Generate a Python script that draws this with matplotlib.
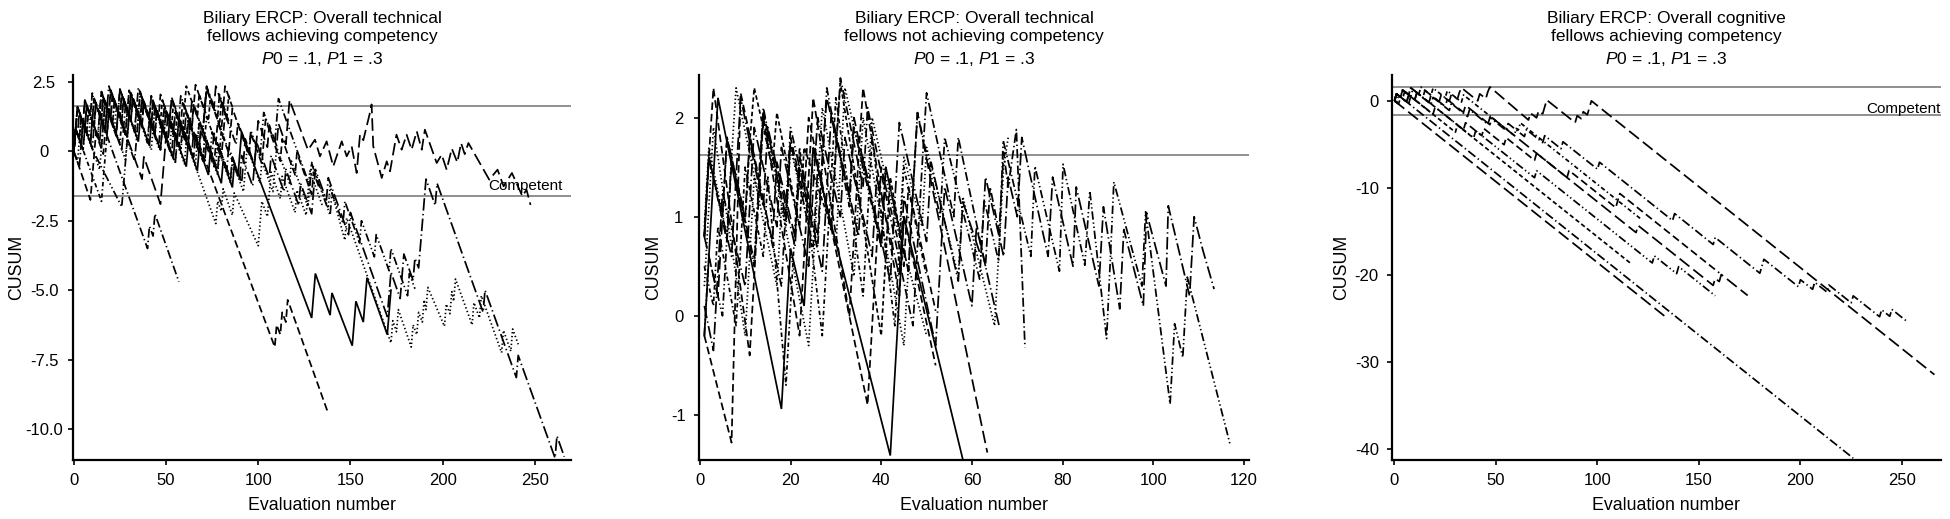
import matplotlib
matplotlib.use("Agg")
import matplotlib.pyplot as plt

plt.rcParams['font.family'] = ['Liberation Sans', 'DejaVu Sans']
plt.rcParams['mathtext.fontset'] = 'custom'
plt.rcParams['mathtext.rm'] = 'Liberation Sans'
plt.rcParams['mathtext.it'] = 'Liberation Sans:italic'
plt.rcParams['lines.scale_dashes'] = False

# ---------------- data: panel 1 (technical, achieving competency) ----------------
p1_solid = [(0,0),(1,0.8),(4,0.25),(5,1.05),(9,0.3),(10,1.1),(14,0.35),(15,1.15),(18,0.6),(19,1.4),(23,0.65),(24,1.45),(29,0.5),(30,1.3),(35,0.35),(36,1.15),(41,0.2),(42,1.0),(47,0.05),(48,0.85),(54,-0.25),(55,0.55),(61,-0.55),(62,0.25),(67,-0.7),(68,0.1),(73,-0.85),(74,-0.05),(80,-1.15),(81,-0.35),(86,-1.3),(87,-0.5),(89,-0.9),(90,-0.1),(91,0.7),(129,-6.0),(130,-5.2),(131,-4.4),(139,-5.9),(140,-5.1),(151,-7.0),(152,-6.2),(153,-5.4),(157,-6.15),(158,-5.35),(159,-4.55),(170,-6.6),(171,-5.8),(172,-5.0)]
p1_dash = [(0,0),(1,0.8),(3,0.45),(4,1.25),(7,0.7),(8,1.5),(11,0.95),(12,1.75),(16,1.0),(17,1.8),(20,1.25),(21,2.05),(26,1.1),(27,1.9),(31,1.15),(32,1.95),(37,1.0),(38,1.8),(44,0.7),(45,1.5),(51,0.4),(52,1.2),(58,0.1),(59,0.9),(65,-0.2),(66,0.6),(109,-7.05),(110,-6.25),(112,-6.6),(113,-5.8),(115,-6.15),(116,-5.35),(137.5,-9.35)]
p1_dashdot = [(0,0),(1,0.8),(5,0.05),(6,0.85),(10,0.1),(11,0.9),(15,0.15),(16,0.95),(21,0.0),(40,-3.5),(41,-2.7),(43,-3.05),(44,-2.25),(57,-4.7)]
p1_longdash = [(0,0),(1,0.8),(2,0.6),(3,1.4),(6,0.85),(7,1.65),(10,1.1),(11,1.9),(15,1.15),(16,1.95),(20,1.2),(21,2.0),(25,1.25),(26,2.05),(31,1.1),(32,1.9),(37,0.95),(38,1.75),(43,0.8),(44,1.6),(50,0.5),(51,1.3),(57,0.2),(58,1.0),(64,-0.1),(65,0.7),(71,-0.4),(72,0.4),(78,-0.7),(79,0.1),(85,-1.0),(86,-0.2),(91,-1.15),(92,-0.35),(93,0.45),(98,-0.5),(99,0.3),(100,1.1),(105,0.15),(106,0.95),(110,0.2),(111,1.0),(115,0.25),(116,1.05),(117,1.85),(127,0.05),(130.8,0.42),(133.5,-0.18),(137.1,0.36),(140.7,-0.54),(145.3,0.36),(148,-0.18),(150.7,0.18),(153.4,-0.78),(155.2,0.6),(157,0.4),(160.6,1.39),(161.5,1.69),(162.4,0.18),(167,-0.96),(169.7,-0.36),(171.5,-0.72),(175,0.6),(177.8,0.06),(180.5,0.6),(183.2,0.06),(186,0.72),(188.7,0.06),(190.4,0.78),(196.8,-0.42),(199.5,-0.12),(202.2,-0.66),(205,0.1),(208,-0.4),(210,0.3),(212,-0.1),(214,0.3),(225.3,-1.02),(229.8,-0.66),(233.1,-1.26),(237.6,-0.78),(243.3,-1.62),(245.5,-1.38),(247.7,-1.93)]
p1_longdashdot = [(0,0),(1,0.8),(2,1.6),(6,0.85),(7,1.65),(11,0.9),(12,1.7),(17,0.75),(18,1.55),(19,2.35),(24,1.4),(25,2.2),(30,1.25),(31,2.05),(37,0.95),(38,1.75),(44,0.65),(45,1.45),(51,0.35),(52,1.15),(53,1.95),(60,0.65),(61,1.45),(68,0.15),(69,0.95),(75,-0.15),(76,0.65),(83,-0.65),(84,0.15),(90,-0.95),(91,-0.15),(97,-1.25),(98,-0.45),(99,0.35),(106,-0.95),(107,-0.15),(114,-1.45),(115,-0.65),(122,-1.95),(123,-1.15),(129,-2.25),(130,-1.45),(131,-0.65),(137,-1.75),(138,-0.95),(149,-3.0),(150,-2.2),(170,-5.95),(171,-5.15),(172,-4.35),(177,-5.3),(178,-4.5),(179,-3.7),(184,-4.65),(185,-3.85),(187,-4.2),(188,-3.4),(189,-2.6),(190,-1.8),(191,-1.0),(196,-1.95),(197,-1.15),(222,-5.8),(223,-5.0),(240,-8.15),(241,-7.35),(261,-11.05),(262,-10.25),(266,-11.0)]
p1_dot = [(0,0),(1,0.8),(3,0.4),(4,1.2),(8,0.45),(9,1.25),(10,2.05),(16,0.9),(17,1.7),(22,0.75),(23,1.55),(28,0.6),(29,1.4),(30,2.2),(36,1.05),(37,1.85),(44,0.55),(45,1.35),(52,0.05),(53,0.85),(60,-0.45),(61,0.35),(62,1.15),(70,-0.35),(71,0.45),(78,-0.85),(79,-0.05),(85,-1.15),(86,-0.35),(92,-1.45),(93,-0.65),(94,0.15),(101,-1.15),(102,-0.35),(108,-1.45),(109,-0.65),(110,0.15),(117,-1.15),(118,-0.35),(127,-2.0),(128,-1.2),(129,-0.4),(138,-2.05),(139,-1.25),(147,-3.2),(148,-2.4),(172,-6.9),(173,-6.1),(175,-6.5),(176,-5.7),(183,-7.05),(184,-6.25),(186,-6.6),(187,-5.8),(189,-6.15),(190,-5.35),(191,-5.7),(192,-4.9),(201,-6.3),(202,-5.5),(204,-5.85),(205,-5.05),(206,-5.4),(207,-4.6),(216,-6.25),(217,-5.45),(220,-6.0),(221,-5.2),(232,-7.25),(233,-6.45),(237,-7.2),(238,-6.4),(241,-6.95)]
p1_shortdash = [(0,0),(1,0.8),(2,1.6),(6,0.85),(7,1.65),(10,1.1),(11,1.9),(15,1.15),(16,1.95),(19,1.4),(20,2.2),(25,1.25),(26,2.05),(30,1.3),(31,2.1),(36,1.15),(37,1.95),(41,1.2),(42,2.0),(47,1.05),(48,1.85),(53,0.9),(54,1.7),(59,0.75),(60,1.55),(61,2.35),(67,1.25),(68,2.05),(73,1.1),(74,1.9),(79,0.95),(80,1.75),(83,1.2),(84,2.0),(85,1.8)]
p1_dashdot2 = [(0,0),(3,-0.55),(4,0.25),(5,1.05),(9,0.3),(10,1.1),(13,0.55),(14,1.35),(15,2.15),(21,1.0),(22,1.8),(27,0.85),(28,1.65),(33,0.7),(34,1.5),(35,2.3),(42,1.0),(43,1.8),(49,0.7),(50,1.5),(56,0.4),(57,1.2),(58,2.0),(64,0.9),(65,1.7),(70,0.75),(71,1.55),(72,2.35),(78,1.25),(79,2.05),(84,1.1)]
p1_dashdotdot = [(0,0),(1,0.8),(5,0.05),(6,0.85),(11,-0.05),(26,-2.0),(27,-1.2),(28,-0.4),(29,0.4),(33,-0.35),(34,0.45),(35,1.25),(40,0.3),(41,1.1),(46,0.15),(47,0.95),(53,-0.15),(54,0.65),(55,1.45),(61,0.35),(62,1.15),(67,0.2),(68,1.0),(74,-0.1),(75,0.7),(80,-0.25),(81,0.55),(82,1.35),(88,0.25),(89,1.05),(95,-0.05),(96,0.75),(101,-0.2),(102,0.6),(103,1.4),(109,0.3),(110,1.1),(111,1.9),(128,-1.25),(129,-0.45),(139,-2.3),(140,-1.5),(146,-2.6),(147,-1.8),(155,-3.3),(156,-2.5),(163,-3.8),(164,-3.0),(171,-4.3),(172,-3.5),(181,-5.2),(182,-4.4),(185,-4.95)]
p1_dash2 = [(0,0),(9,-1.75),(10,-0.95),(11,-0.15),(12,0.65),(16,-0.1),(17,0.7),(18,1.5),(23,0.55),(24,1.35),(28,0.6),(29,1.4),(30,2.2),(36,1.05),(37,1.85),(42,0.9),(43,1.7),(48,0.75),(49,1.55),(54,0.6),(55,1.4),(61,0.25),(62,1.05),(68,-0.05),(69,0.75),(76,-0.55),(77,0.25),(78,1.05),(84,-0.05),(85,0.75),(86,1.55),(95,-0.15),(96,0.65),(102,-0.45),(103,0.35),(104,1.15),(112,-0.35),(113,0.45),(120,-0.85),(121,-0.05),(129,-1.55),(130,-0.75),(133,-1.3)]
p1_dot2 = [(0,0),(1,0.8),(2,1.6),(7,0.65),(8,1.45),(13,0.5),(14,1.3),(15,2.1),(21,0.95),(22,1.75),(28,0.65),(29,1.45),(34,0.5),(35,1.3),(36,2.1),(42,0.95),(43,1.75),(49,0.65),(50,1.45),(58,-0.05),(59,0.75),(77,-2.6),(78,-1.8),(80,-2.15),(81,-1.35),(86,-2.3),(87,-1.5),(100,-3.4),(101,-2.6),(102,-1.8),(105,-2.35),(106,-1.55),(107,-0.75),(112,-1.7),(113,-0.9),(120,-2.2),(121,-1.4),(126,-2.3),(127,-1.5),(128,-0.7),(135,-2.0)]
p1_longdash2 = [(0,0),(1,0.8),(4,0.25),(5,1.05),(6,1.85),(11,0.9),(12,1.7),(17,0.75),(18,1.55),(26,0.05),(27,0.85),(37,-1.0),(38,-0.2),(47,-1.9),(48,-1.1),(49,-0.3),(50,0.5),(55,-0.45),(56,0.35),(57,1.15),(62,0.2),(63,1.0),(64,1.8),(70,0.7),(71,1.5),(72,2.3),(76,1.55),(77,2.35),(84,1.0)]
p1_dash3 = [(0,0),(1,0.8),(2,1.6),(5,1.05),(6,1.85),(9,1.3),(10,2.1),(14,1.35),(15,2.15),(19,1.4),(20,2.2),(24,1.45),(25,2.25),(30,1.3),(31,2.1),(35,1.35),(36,2.15),(41,1.2),(42,2.0),(46,1.25),(47,2.05),(52,1.1),(53,1.9),(58,0.95),(59,1.75),(64,0.8),(65,1.6),(66,2.4),(71,1.45),(72,2.25),(80,0.75),(81,1.55),(82,2.35),(86,1.6)]
p1_dot3 = [(0,0),(2,-0.4),(3,0.4),(4,1.2),(14,-0.65),(15,0.15),(16,0.95),(17,1.75),(28,-0.3),(29,0.5),(30,1.3),(31,2.1),(42,0.05),(43,0.85),(44,1.65),(55,-0.4),(56,0.4),(57,1.2),(66,-0.45),(67,0.35),(68,1.15),(77,-0.5),(78,0.3),(85,-1.0)]
p1_shortdashdot = [(0,0),(1,0.8),(15,-1.8),(16,-1.0),(17,-0.2),(18,0.6),(19,1.4),(25,0.3),(26,1.1),(27,1.9),(33,0.75),(34,1.55),(40,0.4),(41,1.2),(47,0.05),(48,0.85),(49,1.65),(55,0.5),(56,1.3),(62,0.15),(63,0.95),(70,-0.35),(71,0.45),(72,1.25),(79,-0.05),(80,0.75),(86,-0.35)]

# ---------------- data: panel 2 (technical, not achieving competency) ----------------
p2_solid = [(1,-0.2),(2,0.6),(3,1.4),(4,2.2),(18,-0.94),(19,-0.13),(20,0.68),(23,0.1),(24,0.9),(25,1.7),(28,1.1),(42,-1.41),(43,-0.6),(44,0.2),(45,1.0),(58,-1.45)]
p2_dash = [(1,-0.2),(7,-1.28),(8,0.5),(9,2.25),(13,1.4),(14,2.05),(19,1.0),(20,1.8),(23,1.2),(24,2.0),(37,-0.9),(38,-0.1),(39,0.7),(40,1.5),(45,0.5),(46,1.3),(52,0.05)]
p2_dashdot = [(1,0.8),(2,1.6),(6,0.75),(7,1.55),(12,0.5),(13,1.3),(14,2.1),(19,0.95),(20,1.75),(25,0.7),(26,1.5),(29,0.85),(30,1.65),(31,2.4),(36,1.3),(37,2.1),(47,-0.1),(48,0.7),(49,1.5),(50,2.25),(56,1.0),(57,1.8),(63,0.5),(64,1.3),(66,0.85),(67,1.65),(68,1.3),(69.8,1.88),(71.7,-0.32)]
p2_longdash = [(1,0.8),(4,0.2),(5,1.0),(6,1.8),(10,1.0),(11,1.8),(16,0.75),(17,1.55),(21,0.8),(22,1.6),(26,0.8),(27,1.6),(28,2.2),(33,1.2),(34,2.0),(40,0.7),(41,1.5),(46,0.45),(47,1.25),(48,2.05),(51,1.35),(63.4,-1.38)]
p2_dashdotdot = [(1,-0.2),(2,0.6),(5,0.0),(6,0.8),(7,1.6),(12,0.55),(13,1.35),(18,0.3),(19,1.1),(20,1.9),(26,0.7),(27,1.5),(28,2.3),(33,1.1),(34,1.9),(40,0.7),(41,1.5),(46,0.45),(47,1.25),(48,2.05),(53,1.0),(54,1.8),(61.7,0.37),(62.7,1.17),(65.9,0.55),(66.9,1.77),(73,0.6),(73.9,1.51),(79.3,0.45),(80.1,1.53),(84.9,0.51),(86,1.26),(89.7,-0.23),(90.5,0.55),(91.3,1.35),(97.5,0.3),(98.3,1.05),(103.7,-0.89),(104.7,-0.08),(106.5,-0.42),(107.5,0.39),(117,-1.31)]
p2_longdashdot = [(1,0.8),(2,1.6),(7,0.6),(8,1.4),(9,2.2),(14,1.1),(15,1.9),(21,0.7),(22,1.5),(27,0.45),(28,1.25),(29,2.05),(35,0.8),(36,1.6),(42,0.35),(43,1.15),(44,1.95),(50,0.75),(51,1.55),(57,0.35),(58,1.15),(62,0.6),(63,1.4),(67,0.6),(68,1.4),(70,1.0),(71,1.8),(76.8,0.6),(77.8,1.4),(82.3,0.5),(83,1.3),(88,0.3),(89,1.1),(92.6,0.07),(93.5,0.87),(97.8,0.1),(98.5,1.04),(102.8,0.3),(103.3,1.11),(108,0.2),(109,1.0),(111,0.65),(113.4,0.27)]
p2_shortdash = [(1,0.8),(2,1.6),(5,1.0),(6,1.8),(10,0.95),(11,1.75),(12,2.3),(16,1.5),(17,2.05),(22,0.9),(23,1.7),(29,0.9),(30,1.7),(31,2.35),(40,-0.2),(41,0.6),(42,1.4),(45,0.6)]
p2_dot = [(1,0.9),(2,1.7),(6,0.8),(7,1.6),(8,2.3),(13,1.2),(14,2.0),(19,0.9),(20,1.7),(24,0.9),(25,1.7),(30,0.7),(31,1.5),(32,2.3),(37,1.3),(38,2.0),(44,0.8),(45,1.6),(49,0.9),(50,1.7),(57,0.4),(58,1.2),(65,-0.1),(66,0.7),(67,1.5),(68,1.8)]
p2_longdashdot2 = [(1,0.1),(3,-0.35),(4,0.45),(5,1.25),(10,0.3),(11,1.1),(12,1.9),(17,0.9),(18,1.7),(24,0.5),(25,1.3),(26,2.0),(31,1.0),(32,1.8),(38,0.6),(39,1.4),(44,0.4),(45,1.2),(52,-0.3),(53,0.5),(54,1.3),(60,0.1),(61,0.9),(66,-0.1)]
p2_shortdashdot = [(1,0.5),(3,0.1),(4,0.9),(8,-0.1),(9,0.7),(10,1.5),(14,0.6),(15,1.4),(19,-0.7),(20,0.1),(21,0.9),(22,1.7),(27,-0.2),(28,0.6),(29,1.4),(30,2.2),(36,0.2),(37,1.0),(38,1.8),(43,-0.1),(44,0.7),(45,1.5),(50,0.4)]
p2_dash2 = [(1,0.8),(2,1.6),(3,2.3),(11,-0.4),(12,0.4),(13,1.2),(14,2.0),(22,-0.2),(23,0.6),(24,1.4),(25,2.2),(33,0.0),(34,0.8),(35,1.6),(36,2.3),(44,0.2),(45,1.0),(52,-0.5)]
p2_dot2 = [(1,0.3),(2,1.1),(3,1.9),(10,-0.2),(11,0.6),(12,1.4),(17,0.3),(18,1.1),(24,-0.3),(25,0.5),(26,1.3),(27,2.1),(34,0.4),(35,1.2),(36,2.0),(45,-0.3),(46,0.5),(50,-0.2)]

# ---------------- data: panel 3 (cognitive, achieving competency) ----------------
p3_longdash = [(0,0),(1,0.8),(6,-0.1),(7,0.7),(8,1.5),(14,0.4),(15,1.2),(22,-0.1),(23,0.7),(27,-0.05),(28,0.75),(31,0.2),(32,1.0),(33,1.5),(41,0.0),(42,0.8),(45,0.25),(46,1.05),(47,1.6),(66,-2.2),(67,-1.4),(70,-1.95),(71,-1.15),(73,-1.5),(74,-0.7),(75,0.1),(89,-2.5),(90,-1.7),(92,-2.05),(93,-1.25),(95,-1.6),(96,-0.8),(97,0.0),(266,-31.45)]
p3_dashdot = [(0,0),(2,-0.37),(3,0.44),(4,1.25),(10,0.1),(11,0.9),(18,-0.4),(19,0.4),(27,-1.1),(28,-0.3),(36,-1.8),(37,-1.0),(46,-2.7),(47,-1.9),(55,-3.4),(56,-2.6),(64,-4.1),(65,-3.3),(73,-4.8),(74,-4.0),(82,-5.5),(83,-4.7),(100,-7.85),(101,-7.05),(137,-13.75),(138,-12.95),(157,-16.5),(158,-15.7),(180,-19.8),(181,-19.0),(182,-18.2),(199,-21.35),(200,-20.55),(206,-21.65),(207,-20.85),(213,-21.95),(214,-21.15),(225,-23.2),(226,-22.4),(239,-24.8),(240,-24.0),(244,-24.75),(245,-23.95),(252,-25.25)]
p3_dashdot2 = [(0,0),(1,0.81),(226,-41.05)]
p3_longdash2 = [(0,0),(134,-24.9)]
p3_shortdash = [(0,0),(1,0.8),(6,-0.13),(7,0.67),(30,-3.6),(31,-2.8),(116,-18.6)]
p3_longdash3 = [(0,0),(1,0.81),(4,0.26),(5,1.07),(10,0.14),(11,0.95),(17,-0.16),(18,0.65),(25,-0.65),(26,0.16),(34,-1.32),(35,-0.51),(47,-2.74),(48,-1.93),(119,-15.13),(120,-14.32),(157,-21.2),(158,-20.39),(160,-20.76),(161,-19.95),(174,-22.36)]
p3_dash = [(0,0),(1,0.81),(7,-0.30),(8,0.51),(19,-1.53),(20,-0.72),(34,-3.32),(35,-2.51),(43,-4.0),(44,-3.18),(54,-5.04),(55,-4.23),(69,-6.83),(70,-6.02),(85,-8.81),(86,-8.0),(109,-12.27),(110,-11.46),(111,-10.65),(160,-19.76)]
p3_shortdashdot = [(0,0),(1,-0.19),(2,0.63),(3,0.44),(4,1.26),(7,0.70),(8,1.51),(12,0.77),(13,1.58),(18,0.65),(19,1.47),(25,0.35),(26,1.16),(33,-0.14),(34,0.68),(59,-3.97),(60,-3.16),(61,-3.35),(62,-2.53),(121,-13.5)]
p3_dashdotdot = [(0,0),(1,0.81),(3,0.44),(4,1.26),(8,0.51),(9,1.33),(39,-4.25),(40,-3.44),(69,-8.83),(70,-8.02),(127,-18.62),(128,-17.81),(139,-19.85),(140,-19.04),(158,-22.39)]

# decision limits
p1_limits = [1.64, -1.62]
p2_limits = [1.62]
p3_limits = [1.6, -1.63]

titles = [
    "Biliary ERCP: Overall technical\nfellows achieving competency",
    "Biliary ERCP: Overall technical\nfellows not achieving competency",
    "Biliary ERCP: Overall cognitive\nfellows achieving competency",
]
subtitle = r"$\mathit{P}$0 = .1, $\mathit{P}$1 = .3"

p1_yticks = [2.5, 0, -2.5, -5.0, -7.5, -10.0]
p1_yticklabels = ["2.5", "0", "-2.5", "-5.0", "-7.5", "-10.0"]
p2_yticks = [2, 1, 0, -1]
p2_yticklabels = ["2", "1", "0", "-1"]
p3_yticks = [0, -10, -20, -30, -40]
p3_yticklabels = ["0", "-10", "-20", "-30", "-40"]
p1_xticks = [0, 50, 100, 150, 200, 250]
p2_xticks = [0, 20, 40, 60, 80, 100, 120]
p3_xticks = [0, 50, 100, 150, 200, 250]

# ---------------- styles (dash lengths in points) ----------------
ST = {
    'solid': '-',
    'dash': (0, (5.5, 2.8)),
    'longdash': (0, (9, 3.6)),
    'dashdot': (0, (6.5, 2.2, 1.0, 2.2)),
    'longdashdot': (0, (9, 2.4, 1.0, 2.4)),
    'shortdash': (0, (3.2, 2.0)),
    'dot': (0, (1.0, 1.8)),
    'dashdotdot': (0, (6, 2, 1, 2, 1, 2)),
    'shortdashdot': (0, (3.2, 2, 1, 2)),
}

panel1 = [(p1_solid, 'solid'), (p1_dash, 'dash'), (p1_dashdot, 'dashdot'), (p1_longdash, 'longdash'),
          (p1_longdashdot, 'longdashdot'), (p1_dot, 'dot'), (p1_shortdash, 'shortdash'),
          (p1_dashdot2, 'dashdot'), (p1_dashdotdot, 'dashdotdot'), (p1_dash2, 'dash'),
          (p1_dot2, 'dot'), (p1_longdash2, 'longdash'), (p1_dash3, 'dash'), (p1_dot3, 'dot'),
          (p1_shortdashdot, 'shortdashdot')]
panel2 = [(p2_solid, 'solid'), (p2_dash, 'dash'), (p2_dashdot, 'dashdot'), (p2_longdash, 'longdash'),
          (p2_dashdotdot, 'dashdotdot'), (p2_longdashdot, 'longdashdot'), (p2_shortdash, 'shortdash'),
          (p2_dot, 'dot'), (p2_longdashdot2, 'longdashdot'), (p2_shortdashdot, 'shortdashdot'),
          (p2_dash2, 'dash'), (p2_dot2, 'dot')]
panel3 = [(p3_longdash, 'longdash'), (p3_dashdot, 'dashdot'), (p3_dashdot2, 'dashdot'),
          (p3_longdash2, 'longdash'), (p3_shortdash, 'shortdash'), (p3_longdash3, 'longdash'),
          (p3_dash, 'dash'), (p3_shortdashdot, 'shortdashdot'), (p3_dashdotdot, 'dashdotdot')]

W, H = 1950, 519
fig = plt.figure(figsize=(W / 100, H / 100), dpi=100)

def box(l, r, t=75, b=459.5):
    return [l / W, 1 - b / H, (r - l) / W, (b - t) / H]

axes_px = [(72.6, 571.3), (698.9, 1249.0), (1392.0, 1940.5)]
ax1 = fig.add_axes(box(*axes_px[0]))
ax2 = fig.add_axes(box(*axes_px[1]))
ax3 = fig.add_axes(box(*axes_px[2]))

configs = [
    (ax1, panel1, p1_limits, (-0.65, 269.8), (-11.1, 2.75), p1_xticks, p1_yticks, p1_yticklabels, 'center', 17.0, 16.6),
    (ax2, panel2, p2_limits, (-0.2, 121.1), (-1.45, 2.43), p2_xticks, p2_yticks, p2_yticklabels, 'center', 11.0, 654.0),
    (ax3, panel3, p3_limits, (-1.23, 269.0), (-41.2, 2.97), p3_xticks, p3_yticks, p3_yticklabels, 'right', 6.0, 1341.5),
]

for i, (ax, series, limits, xl, yl, xt, yt, ytl, ha, pad, ylab_x) in enumerate(configs):
    for lim in limits:
        ax.axhline(lim, color='#8f8f8f', lw=1.4, zorder=1)
    for pts, st in series:
        xs = [p[0] for p in pts]
        ys = [p[1] for p in pts]
        ax.plot(xs, ys, color='black', lw=1.25, linestyle=ST[st], zorder=2,
                solid_joinstyle='miter', dash_capstyle='butt')
    ax.set_xlim(*xl)
    ax.set_ylim(*yl)
    ax.set_xticks(xt)
    ax.set_xticklabels([str(v) for v in xt])
    ax.set_yticks(yt)
    ax.set_yticklabels(ytl)
    for lab in ax.get_yticklabels():
        lab.set_horizontalalignment(ha)
    ax.tick_params(axis='both', direction='out', length=3.5, width=1.2, labelsize=12, colors='black')
    ax.tick_params(axis='y', pad=pad)
    ax.tick_params(axis='x', pad=6)
    for s in ['top', 'right']:
        ax.spines[s].set_visible(False)
    for s in ['left', 'bottom']:
        ax.spines[s].set_linewidth(1.6)
    l, r = axes_px[i]
    cx = (l + r) / 2 / W
    fig.text(cx, 1 - 27 / H, titles[i], ha='center', va='center', fontsize=12.5, linespacing=1.25)
    fig.text(cx, 1 - 59.5 / H, subtitle, ha='center', va='center', fontsize=12.5)
    fig.text(cx, 1 - 505 / H, "Evaluation number", ha='center', va='center', fontsize=12.8)
    fig.text(ylab_x / W, 1 - 267 / H, "CUSUM", ha='center', va='center', rotation=90, fontsize=12.8)

ax1.text(225, -1.41, "Competent", ha='left', va='baseline', fontsize=11)
ax3.text(269, -1.37, "Competent", ha='right', va='baseline', fontsize=11)

fig.savefig("out.png", dpi=100)
